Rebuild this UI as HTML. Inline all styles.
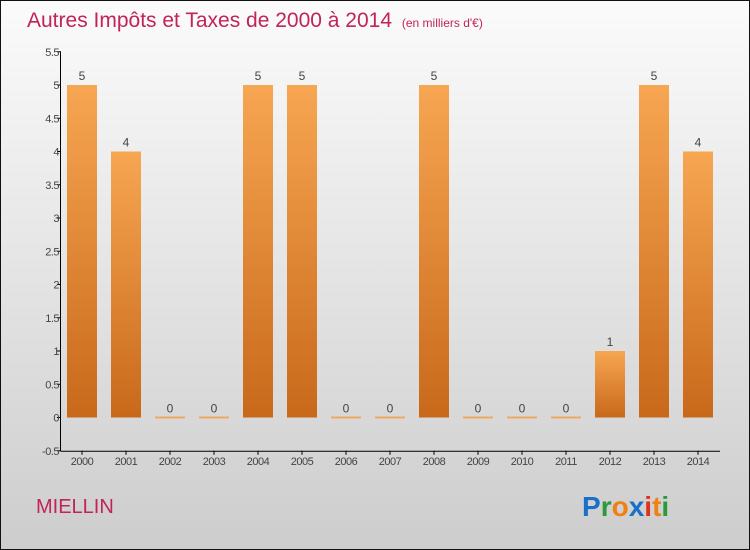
<!DOCTYPE html>
<html><head><meta charset="utf-8"><style>
body{margin:0;width:750px;height:550px;overflow:hidden}
svg{display:block;font-family:"Liberation Sans",sans-serif}
</style></head><body>
<svg width="750" height="550">
<defs>
<linearGradient id="bg" x1="0" y1="0" x2="0" y2="1"><stop offset="0" stop-color="#fbfbfb"/><stop offset="1" stop-color="#cdcdcd"/></linearGradient>
<linearGradient id="bar" x1="0" y1="0" x2="0" y2="1"><stop offset="0" stop-color="#f7a652"/><stop offset="1" stop-color="#c8691a"/></linearGradient>
</defs>
<rect x="0.5" y="0.5" width="749" height="549" fill="url(#bg)" stroke="#111"/>
<text x="27" y="27" font-size="21" fill="#c0245a">Autres Impôts et Taxes de 2000 à 2014 <tspan font-size="12" dx="4">(en milliers d'€)</tspan></text>
<g id="yaxis"></g>
<g id="bars"></g>
<g id="xaxis"></g>
<text x="36" y="513" font-size="20" fill="#c0245a">MIELLIN</text>
<g font-size="28" font-weight="bold" font-family="'Liberation Sans',sans-serif">
<text x="582" y="516"><tspan fill="#1a6fc8">P</tspan><tspan fill="#2a9a3a">r</tspan><tspan fill="#f08010">o</tspan><tspan fill="#1a6fc8">x</tspan><tspan fill="#e03020">i</tspan><tspan fill="#f08010">t</tspan><tspan fill="#2a9a3a">i</tspan></text>
</g>
</svg>
<script>
const years=["2000","2001","2002","2003","2004","2005","2006","2007","2008","2009","2010","2011","2012","2013","2014"];
const values=[5,4,0,0,5,5,0,0,5,0,0,0,1,5,4];
const yTicks=[-0.5,0,0.5,1,1.5,2,2.5,3,3.5,4,4.5,5,5.5];
const NS="http://www.w3.org/2000/svg";
const y=v=>417.5-(v)*66.5;
const x=i=>82+i*44;
function mk(t,a,p){const e=document.createElementNS(NS,t);for(const k in a)e.setAttribute(k,a[k]);p.appendChild(e);return e;}
const ya=document.getElementById('yaxis'),xa=document.getElementById('xaxis'),bg=document.getElementById('bars');
mk('line',{x1:60.5,y1:y(5.5),x2:60.5,y2:y(-0.5),stroke:'#000'},ya);
mk('line',{x1:60.5,y1:y(-0.5)+0.5,x2:720,y2:y(-0.5)+0.5,stroke:'#000'},xa);
yTicks.forEach(t=>{
 const l=mk('line',{x1:57,x2:61,y1:y(t),y2:y(t),stroke:'#000'},ya);
 
 
 const tx=mk('text',{x:59,y:y(t)+4,'font-size':11,fill:'#444','text-anchor':'end','letter-spacing':'-0.5'},ya);
 tx.textContent=String(t);
 
 
});
years.forEach((yr,i)=>{
 const v=values[i];
 if(v>0){
  const r=mk('rect',{x:x(i)-15,y:y(v),width:30,height:y(0)-y(v),fill:'url(#bar)'},bg);
  
  
 } else {
  const r=mk('rect',{x:x(i)-15,y:y(0)-1,width:30,height:2,fill:'#f0a860'},bg);
  
  
 }
 const lb=mk('text',{x:x(i),y:y(v)-5,'font-size':12,fill:'#444','text-anchor':'middle'},bg);
 lb.textContent=String(v);
 
 
 const tk=mk('line',{x1:x(i),x2:x(i),y1:y(-0.5),y2:y(-0.5)+4,stroke:'#000'},xa);
 
 
 const xl=mk('text',{x:x(i),y:465,'font-size':11,fill:'#444','text-anchor':'middle','letter-spacing':'-0.5'},xa);
 xl.textContent=yr;
 
 
});
</script>
</body></html>
